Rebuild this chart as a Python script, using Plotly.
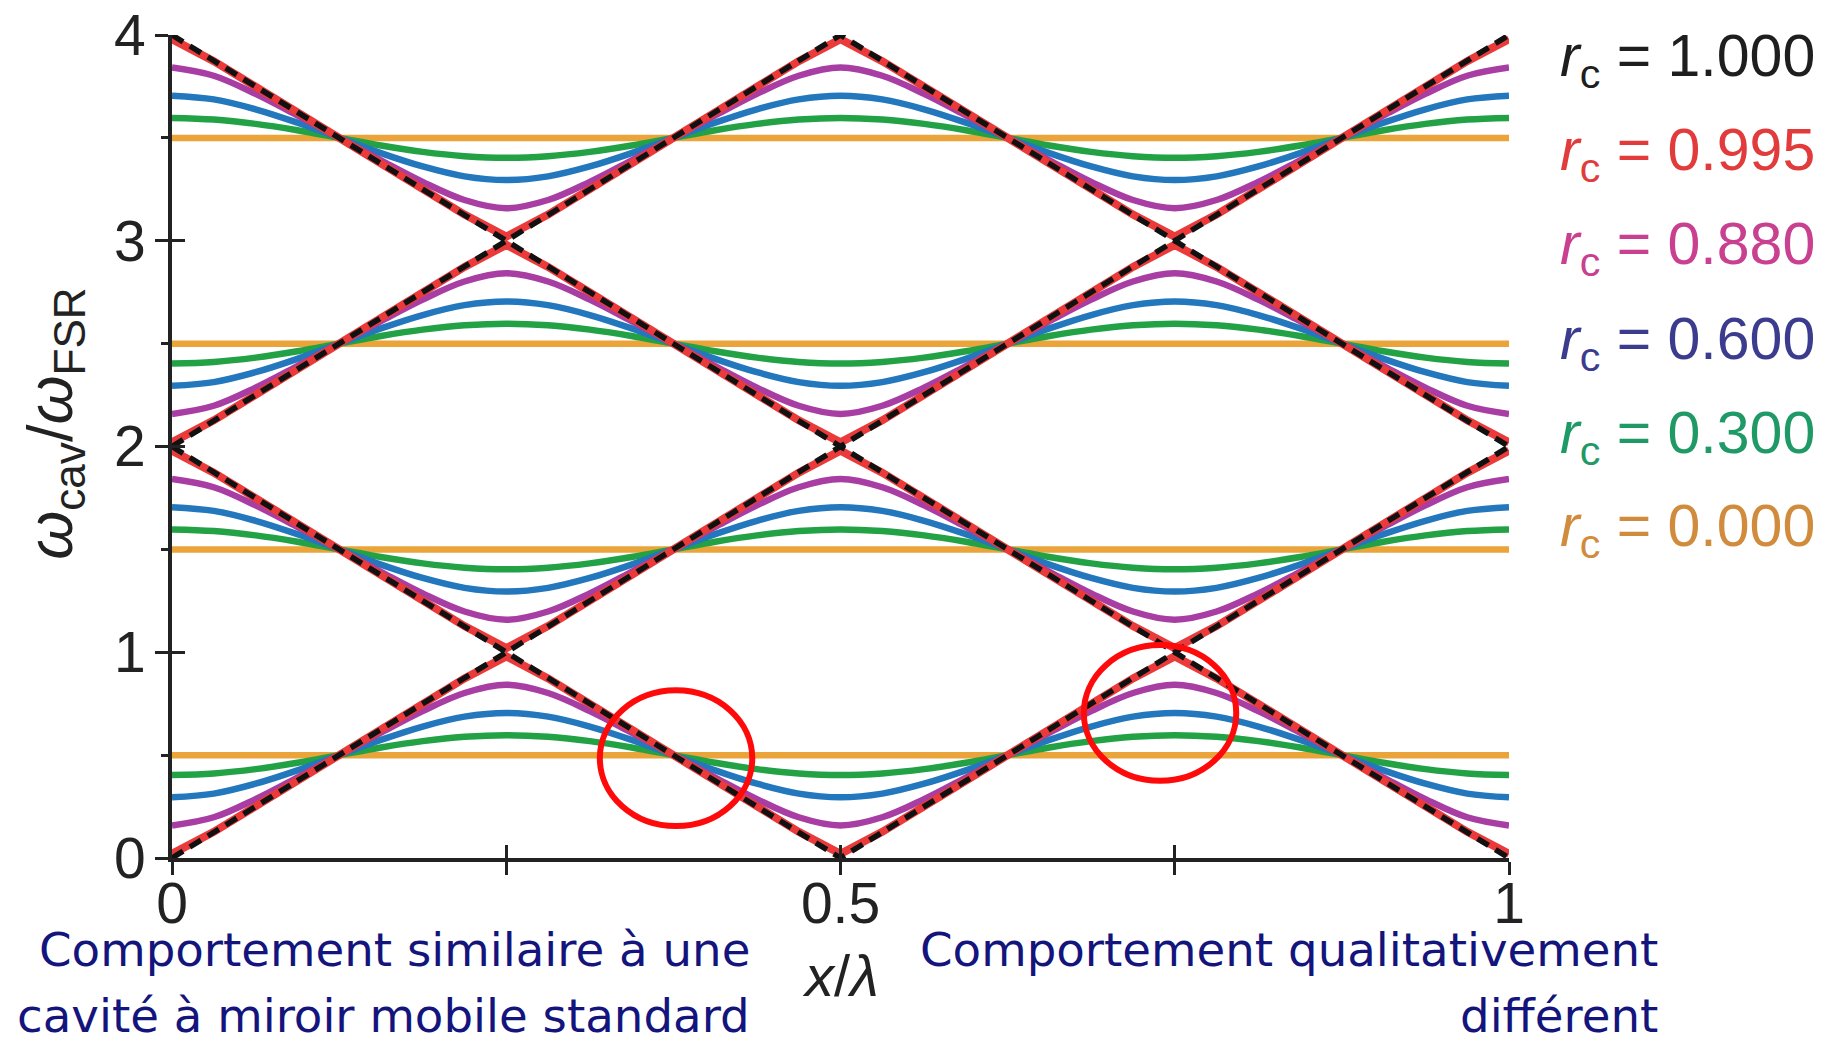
import plotly.graph_objects as go

x_fine = [i / 32 for i in range(33)]
x_vertices = [0, 0.25, 0.5, 0.75, 1.0]
x_flat = [0, 1.0]

branch_r1000 = [0, 1, 0, 1, 0]
branch_r0995 = [0.02, 0.127, 0.251, 0.376, 0.5, 0.624, 0.749, 0.873, 0.98, 0.873, 0.749, 0.624, 0.5, 0.376, 0.251, 0.127, 0.02,
                0.127, 0.251, 0.376, 0.5, 0.624, 0.749, 0.873, 0.98, 0.873, 0.749, 0.624, 0.5, 0.376, 0.251, 0.127, 0.02]
branch_r0880 = [0.158, 0.198, 0.286, 0.391, 0.5, 0.609, 0.714, 0.802, 0.842, 0.802, 0.714, 0.609, 0.5, 0.391, 0.286, 0.198, 0.158,
                0.198, 0.286, 0.391, 0.5, 0.609, 0.714, 0.802, 0.842, 0.802, 0.714, 0.609, 0.5, 0.391, 0.286, 0.198, 0.158]
branch_r0600 = [0.295, 0.313, 0.361, 0.426, 0.5, 0.574, 0.639, 0.687, 0.705, 0.687, 0.639, 0.574, 0.5, 0.426, 0.361, 0.313, 0.295,
                0.313, 0.361, 0.426, 0.5, 0.574, 0.639, 0.687, 0.705, 0.687, 0.639, 0.574, 0.5, 0.426, 0.361, 0.313, 0.295]
branch_r0300 = [0.403, 0.411, 0.432, 0.463, 0.5, 0.537, 0.568, 0.589, 0.597, 0.589, 0.568, 0.537, 0.5, 0.463, 0.432, 0.411, 0.403,
                0.411, 0.432, 0.463, 0.5, 0.537, 0.568, 0.589, 0.597, 0.589, 0.568, 0.537, 0.5, 0.463, 0.432, 0.411, 0.403]
branch_r0000 = [0.5, 0.5]

bands = [0, 1, 2, 3]
legend_labels = ["1.000", "0.995", "0.880", "0.600", "0.300", "0.000"]
legend_colors = ["#1e1e1e", "#e23b3b", "#c8408f", "#3c3c8e", "#1f9a66", "#d08c3c"]

y_ticks = [0, 1, 2, 3, 4]
x_ticks = [0, 0.25, 0.5, 0.75, 1]
x_ticktext = ["0", "", "0.5", "", "1"]


def all_bands(xs, vs):
    X, Y = [], []
    for j in bands:
        if j % 2 == 0:
            ys = [j + v for v in vs]
        else:
            ys = [j + 1 - v for v in vs]
        X += list(xs) + [None]
        Y += ys + [None]
    return X, Y


fig = go.Figure()

series = [
    (x_flat, branch_r0000, "#eaa43a", 6.5, "solid", "linear"),
    (x_fine, branch_r0300, "#22a245", 6.5, "solid", "spline"),
    (x_fine, branch_r0600, "#2377bd", 6.5, "solid", "spline"),
    (x_fine, branch_r0880, "#a83ea3", 6.5, "solid", "spline"),
    (x_fine, branch_r0995, "#ea3a3a", 8, "solid", "linear"),
    (x_vertices, branch_r1000, "#111111", 5.5, "13px,8px", "linear"),
]
for xs, vs, col, w, dash, shape in series:
    X, Y = all_bands(xs, vs)
    fig.add_trace(go.Scatter(x=X, y=Y, mode="lines", line=dict(color=col, width=w, dash=dash, shape=shape),
                             showlegend=False, hoverinfo="skip"))

# dummy trace to carry the inside tick axes
fig.add_trace(go.Scatter(x=[None], y=[None], xaxis="x2", yaxis="y2", showlegend=False))

FONT = "Liberation Sans, Arial, sans-serif"
tickfont = dict(family=FONT, size=57, color="#222222")

fig.update_layout(
    width=1835, height=1030,
    margin=dict(l=164, r=334, t=27, b=180),
    paper_bgcolor="white", plot_bgcolor="white",
    showlegend=False,
    xaxis=dict(range=[0, 1], tickvals=x_ticks, ticktext=x_ticktext, ticks="outside", ticklen=13, tickwidth=3,
               tickcolor="#222222", showline=True, linewidth=4, linecolor="#222222", showgrid=False, zeroline=False,
               tickfont=tickfont, automargin=False, ticklabelstandoff=-20, ticklabeloverflow="allow"),
    yaxis=dict(range=[0, 4], tickvals=y_ticks, ticks="outside", ticklen=13, tickwidth=3,
               tickcolor="#222222", showline=True, linewidth=4, linecolor="#222222", showgrid=False, zeroline=False,
               tickfont=tickfont, automargin=False, ticklabelstandoff=-2, ticklabeloverflow="allow",
               minor=dict(dtick=0.5, tick0=0, ticks="outside", ticklen=7, tickwidth=3, tickcolor="#222222")),
    xaxis2=dict(overlaying="x", anchor="y", side="bottom", range=[0, 1], tickvals=x_ticks, ticks="inside", ticklen=13,
                tickwidth=3, tickcolor="#222222", showticklabels=False, showgrid=False, zeroline=False, showline=False,
                automargin=False),
    yaxis2=dict(overlaying="y", anchor="x", side="left", range=[0, 4], tickvals=y_ticks, ticks="inside", ticklen=13,
                tickwidth=3, tickcolor="#222222", showticklabels=False, showgrid=False, zeroline=False, showline=False,
                automargin=False),
)

# axis titles
fig.add_annotation(xref="paper", yref="paper", x=-0.088, y=0.528, textangle=-90, showarrow=False,
                   xanchor="center", yanchor="middle",
                   text="<i>ω</i><sub>cav</sub>/<i>ω</i><sub>FSR</sub>",
                   font=dict(family=FONT, size=63, color="#222222"))
fig.add_annotation(xref="paper", yref="paper", x=0.5, y=-0.143, showarrow=False, xanchor="center", yanchor="middle",
                   text="<i>x</i>/<i>λ</i>", font=dict(family=FONT, size=58, color="#222222"))

# legend as coloured text
leg_y = [0.970, 0.8555, 0.7413, 0.6258, 0.5116, 0.3986]
for lab, col, yy in zip(legend_labels, legend_colors, leg_y):
    fig.add_annotation(xref="paper", yref="paper", x=1.037, y=yy, xanchor="left", yanchor="middle", showarrow=False,
                       text=f"<i>r</i><sub>c</sub> = {lab}",
                       font=dict(family=FONT, size=59, color=col))

# red circles
fig.add_shape(type="circle", xref="x", yref="y", x0=0.32, x1=0.434, y0=0.155, y1=0.815,
              line=dict(color="#ff0a0a", width=6))
fig.add_shape(type="circle", xref="x", yref="y", x0=0.682, x1=0.796, y0=0.375, y1=1.035,
              line=dict(color="#ff0a0a", width=6))

navy = "#14147d"
bfont = dict(family="DejaVu Sans, sans-serif", size=46.7, color=navy)
notes = [
    ("Comportement similaire à une", 0.434, -0.112),
    ("cavité à miroir mobile standard", 0.434, -0.192),
    ("Comportement qualitativement", 1.113, -0.112),
    ("différent", 1.113, -0.192),
]
for txt, xx, yy in notes:
    fig.add_annotation(xref="paper", yref="paper", x=xx, y=yy, xanchor="right", yanchor="middle", showarrow=False,
                       text=txt, font=bfont)

fig.write_html("out.html")
